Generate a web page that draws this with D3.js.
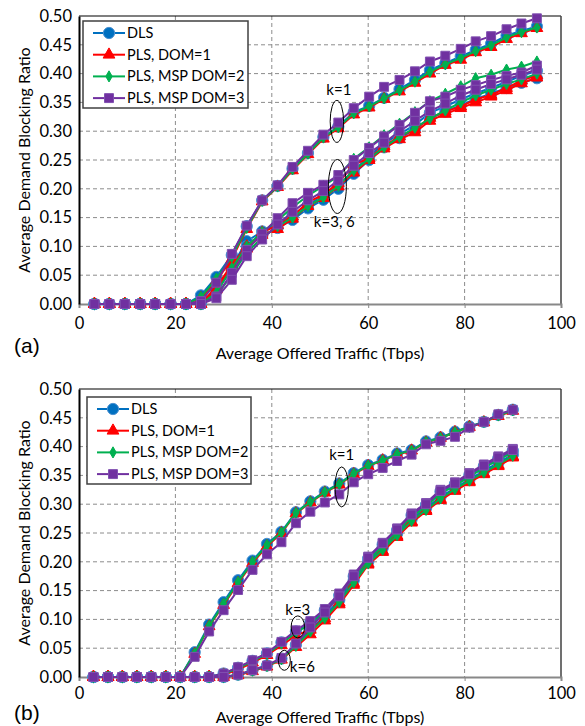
<!DOCTYPE html>
<html>
<head>
<meta charset="utf-8">
<script src="https://cdn.jsdelivr.net/npm/d3@7/dist/d3.min.js"></script>
<style>
  body { margin: 0; background: #fff; }
  svg text { font-family: Lato, "Open Sans", sans-serif; fill: #000; }
</style>
</head>
<body>
<div id="chart"></div>
<script>
// x values (Average Offered Traffic, Tbps)
const trafficA = [3.2, 6.3, 9.5, 12.7, 15.8, 19.0, 22.2, 25.3, 28.5, 31.7, 34.8, 38.0, 41.2, 44.3, 47.5,
                  50.7, 53.8, 57.0, 60.2, 63.3, 66.5, 69.7, 72.8, 76.0, 79.2, 82.3, 85.5, 88.7, 91.8, 95.0];
const trafficB = [3, 6, 9, 12, 15, 18, 21, 24, 27, 30, 33, 36, 39, 42, 45,
                  48, 51, 54, 57, 60, 63, 66, 69, 72, 75, 78, 81, 84, 87, 90];

const xTicks = [0, 20, 40, 60, 80, 100];
const yTicks = [0, 0.05, 0.10, 0.15, 0.20, 0.25, 0.30, 0.35, 0.40, 0.45, 0.50];
const seriesNames = ["DLS", "PLS, DOM=1", "PLS, MSP DOM=2", "PLS, MSP DOM=3"];

// panel (a), k=1
const dlsA1  = [0, 0, 0, 0, 0, 0, 0, 0.015, 0.047, 0.085, 0.135, 0.180, 0.205, 0.235, 0.262, 0.290, 0.308, 0.333, 0.344, 0.358, 0.373, 0.389, 0.406, 0.418, 0.430, 0.441, 0.452, 0.466, 0.474, 0.482];
const plsA1  = [0, 0, 0, 0, 0, 0, 0, 0.010, 0.040, 0.078, 0.130, 0.178, 0.203, 0.232, 0.260, 0.287, 0.305, 0.329, 0.341, 0.356, 0.369, 0.384, 0.400, 0.415, 0.424, 0.437, 0.446, 0.460, 0.470, 0.479];
const msp2A1 = [0, 0, 0, 0, 0, 0, 0, 0.012, 0.044, 0.082, 0.132, 0.179, 0.204, 0.234, 0.261, 0.289, 0.307, 0.331, 0.343, 0.357, 0.371, 0.386, 0.403, 0.416, 0.427, 0.439, 0.449, 0.463, 0.472, 0.480];
const msp3A1 = [0, 0, 0, 0, 0, 0, 0, 0.005, 0.037, 0.087, 0.136, 0.180, 0.206, 0.238, 0.266, 0.294, 0.315, 0.340, 0.360, 0.377, 0.389, 0.404, 0.421, 0.431, 0.443, 0.456, 0.465, 0.477, 0.487, 0.496];
// panel (a), k=3
const dlsA3  = [0, 0, 0, 0, 0, 0, 0, 0, 0.028, 0.065, 0.109, 0.126, 0.140, 0.155, 0.172, 0.188, 0.206, 0.232, 0.256, 0.279, 0.295, 0.311, 0.332, 0.343, 0.355, 0.366, 0.375, 0.386, 0.396, 0.405];
const plsA3  = [0, 0, 0, 0, 0, 0, 0, 0, 0.030, 0.068, 0.100, 0.124, 0.137, 0.152, 0.177, 0.190, 0.210, 0.242, 0.253, 0.274, 0.291, 0.303, 0.323, 0.334, 0.343, 0.355, 0.363, 0.375, 0.388, 0.397];
const msp2A3 = [0, 0, 0, 0, 0, 0, 0, 0, 0.020, 0.062, 0.100, 0.125, 0.145, 0.168, 0.188, 0.205, 0.222, 0.252, 0.272, 0.293, 0.313, 0.333, 0.352, 0.365, 0.378, 0.392, 0.398, 0.407, 0.412, 0.421];
const msp3A3 = [0, 0, 0, 0, 0, 0, 0, 0, 0.013, 0.054, 0.094, 0.122, 0.149, 0.175, 0.193, 0.207, 0.224, 0.250, 0.271, 0.291, 0.311, 0.332, 0.352, 0.360, 0.372, 0.380, 0.389, 0.396, 0.402, 0.414];
// panel (a), k=6
const dlsA6  = [0, 0, 0, 0, 0, 0, 0, 0, 0.022, 0.060, 0.100, 0.118, 0.132, 0.146, 0.166, 0.181, 0.200, 0.226, 0.250, 0.272, 0.288, 0.303, 0.322, 0.334, 0.345, 0.356, 0.365, 0.375, 0.384, 0.392];
const plsA6  = [0, 0, 0, 0, 0, 0, 0, 0, 0.025, 0.063, 0.096, 0.120, 0.130, 0.148, 0.170, 0.184, 0.204, 0.228, 0.250, 0.270, 0.286, 0.298, 0.318, 0.330, 0.340, 0.350, 0.360, 0.371, 0.383, 0.393];
const msp2A6 = [0, 0, 0, 0, 0, 0, 0, 0, 0.015, 0.050, 0.090, 0.115, 0.135, 0.150, 0.170, 0.185, 0.205, 0.232, 0.252, 0.272, 0.290, 0.306, 0.322, 0.336, 0.350, 0.362, 0.372, 0.382, 0.390, 0.400];
const msp3A6 = [0, 0, 0, 0, 0, 0, 0, 0, 0.010, 0.042, 0.083, 0.112, 0.138, 0.160, 0.180, 0.196, 0.214, 0.240, 0.262, 0.280, 0.300, 0.318, 0.335, 0.348, 0.362, 0.372, 0.382, 0.390, 0.398, 0.407];

// panel (b), k=1
const dlsB1  = [0, 0, 0, 0, 0, 0, 0, 0.043, 0.091, 0.130, 0.168, 0.202, 0.231, 0.252, 0.286, 0.305, 0.322, 0.336, 0.354, 0.368, 0.377, 0.388, 0.394, 0.409, 0.416, 0.426, 0.435, 0.443, 0.455, 0.464];
const plsB1  = [0, 0, 0, 0, 0, 0, 0, 0.040, 0.088, 0.125, 0.163, 0.198, 0.227, 0.250, 0.284, 0.303, 0.320, 0.334, 0.352, 0.366, 0.376, 0.386, 0.393, 0.407, 0.415, 0.425, 0.434, 0.442, 0.453, 0.462];
const msp2B1 = [0, 0, 0, 0, 0, 0, 0, 0.041, 0.089, 0.127, 0.165, 0.200, 0.229, 0.251, 0.285, 0.304, 0.321, 0.335, 0.353, 0.367, 0.376, 0.387, 0.393, 0.408, 0.415, 0.425, 0.434, 0.443, 0.454, 0.463];
const msp3B1 = [0, 0, 0, 0, 0, 0, 0, 0.035, 0.079, 0.116, 0.151, 0.186, 0.213, 0.234, 0.267, 0.287, 0.303, 0.317, 0.338, 0.352, 0.363, 0.375, 0.386, 0.404, 0.410, 0.417, 0.433, 0.443, 0.456, 0.464];
// panel (b), k=3
const dlsB3  = [0, 0, 0, 0, 0, 0, 0, 0, 0, 0.006, 0.016, 0.028, 0.041, 0.060, 0.079, 0.095, 0.116, 0.142, 0.175, 0.206, 0.230, 0.255, 0.281, 0.299, 0.322, 0.335, 0.351, 0.366, 0.380, 0.393];
const plsB3  = [0, 0, 0, 0, 0, 0, 0, 0, 0, 0.004, 0.013, 0.025, 0.038, 0.055, 0.072, 0.082, 0.102, 0.129, 0.163, 0.197, 0.219, 0.245, 0.270, 0.290, 0.309, 0.325, 0.340, 0.354, 0.368, 0.383];
const msp2B3 = [0, 0, 0, 0, 0, 0, 0, 0, 0, 0.005, 0.015, 0.027, 0.040, 0.058, 0.077, 0.092, 0.113, 0.139, 0.172, 0.203, 0.227, 0.252, 0.278, 0.296, 0.319, 0.332, 0.348, 0.363, 0.377, 0.390];
const msp3B3 = [0, 0, 0, 0, 0, 0, 0, 0, 0, 0.006, 0.017, 0.029, 0.042, 0.061, 0.081, 0.097, 0.118, 0.145, 0.178, 0.209, 0.233, 0.258, 0.284, 0.302, 0.325, 0.338, 0.354, 0.369, 0.383, 0.396];
// panel (b), k=6
const dlsB6  = [0, 0, 0, 0, 0, 0, 0, 0, 0, 0, 0.004, 0.012, 0.020, 0.032, 0.056, 0.082, 0.106, 0.134, 0.168, 0.200, 0.224, 0.249, 0.274, 0.293, 0.313, 0.328, 0.343, 0.358, 0.372, 0.386];
const plsB6  = [0, 0, 0, 0, 0, 0, 0, 0, 0, 0, 0.003, 0.010, 0.018, 0.030, 0.052, 0.074, 0.098, 0.126, 0.160, 0.195, 0.217, 0.243, 0.268, 0.288, 0.307, 0.323, 0.338, 0.352, 0.366, 0.381];
const msp2B6 = [0, 0, 0, 0, 0, 0, 0, 0, 0, 0, 0.004, 0.011, 0.019, 0.031, 0.054, 0.079, 0.102, 0.130, 0.164, 0.197, 0.221, 0.246, 0.271, 0.290, 0.310, 0.326, 0.341, 0.355, 0.369, 0.384];
const msp3B6 = [0, 0, 0, 0, 0, 0, 0, 0, 0, 0, 0.004, 0.012, 0.020, 0.033, 0.058, 0.086, 0.112, 0.140, 0.175, 0.207, 0.232, 0.256, 0.282, 0.300, 0.323, 0.336, 0.352, 0.367, 0.381, 0.394];

// look of each series
const styles = [
    { color: "#0070C0", edge: "#4A90D0", symbol: d3.symbolCircle, size: 100 },
    { color: "#FF0000", edge: "#FF0000", symbol: d3.symbolTriangle, size: 60 },
    { color: "#00B050", edge: "#00B050", symbol: d3.symbolDiamond, size: 36 },
    { color: "#7030A0", edge: "#8050B0", symbol: d3.symbolSquare, size: 80 }
];

const W = 585, H = 726;
const svg = d3.select("#chart").append("svg")
    .attr("width", W)
    .attr("height", H);

function drawPanel(p) {
    let x = d3.scaleLinear().domain([0, 100]).range([79, 561]);
    let y = d3.scaleLinear().domain([0, 0.5]).range([p.bottom, p.top]);
    let g = svg.append("g");

    // grid
    g.selectAll(".gx").data(xTicks.slice(1, -1)).enter().append("line")
        .attr("x1", d => x(d)).attr("x2", d => x(d))
        .attr("y1", p.top).attr("y2", p.bottom)
        .attr("stroke", "#8c8c8c").attr("stroke-dasharray", "4,3");
    g.selectAll(".gy").data(yTicks.slice(1, -1)).enter().append("line")
        .attr("x1", 79).attr("x2", 561)
        .attr("y1", d => y(d)).attr("y2", d => y(d))
        .attr("stroke", "#8c8c8c").attr("stroke-dasharray", "4,3");

    // frame
    g.append("line").attr("x1", 79).attr("x2", 561).attr("y1", p.top).attr("y2", p.top)
        .attr("stroke", "#000").attr("stroke-width", 1.2);
    g.append("line").attr("x1", 561).attr("x2", 561).attr("y1", p.top).attr("y2", p.bottom)
        .attr("stroke", "#404040").attr("stroke-width", 1.5);

    let xAxis = g.append("g")
        .attr("transform", "translate(0," + p.bottom + ")")
        .call(d3.axisBottom(x).tickValues(xTicks).tickSize(4).tickPadding(p.xPad).tickFormat(d3.format("d")));
    xAxis.select(".domain").attr("stroke", "#888").attr("stroke-width", 2);
    xAxis.selectAll(".tick line").attr("stroke", "#888");
    xAxis.selectAll("text").style("font-size", "16.5px");

    let yAxis = g.append("g")
        .attr("transform", "translate(79,0)")
        .call(d3.axisLeft(y).tickValues(yTicks).tickSize(0).tickPadding(7).tickFormat(d3.format(".2f")));
    yAxis.select(".domain").attr("stroke", "#000").attr("stroke-width", 2);
    yAxis.selectAll("text").style("font-size", "16.5px");

    // titles
    g.append("text")
        .attr("transform", "translate(30," + (p.top + p.bottom) / 2 + ") rotate(-90)")
        .attr("text-anchor", "middle")
        .style("font-size", "16px")
        .text("Average Demand Blocking Ratio");
    g.append("text")
        .attr("x", 320).attr("y", p.bottom + p.titleOff)
        .attr("text-anchor", "middle")
        .style("font-size", "16px")
        .text("Average Offered Traffic (Tbps)");
    g.append("text")
        .attr("x", 14).attr("y", p.bottom + p.labelOff)
        .style("font-family", "'Liberation Sans', Arial, sans-serif")
        .style("font-size", "21px")
        .text(p.label);

    // series
    let line = d3.line().x(d => x(d[0])).y(d => y(d[1]));
    p.series.forEach(function(groups, si) {
        let st = styles[si];
        groups.forEach(function(vals) {
            let pts = vals.map((v, i) => [p.traffic[i], v]);
            g.append("path")
                .attr("d", line(pts))
                .attr("fill", "none")
                .attr("stroke", st.color)
                .attr("stroke-width", 2);
            g.selectAll(null).data(pts).enter().append("path")
                .attr("d", d3.symbol().type(st.symbol).size(st.size))
                .attr("transform", d => "translate(" + x(d[0]) + "," + y(d[1]) + ")")
                .attr("fill", st.color)
                .attr("stroke", st.edge)
                .attr("stroke-width", 1);
        });
    });

    // annotations
    p.notes.forEach(function(n) {
        g.append("ellipse")
            .attr("cx", x(n.x)).attr("cy", y(n.y))
            .attr("rx", n.rx).attr("ry", n.ry)
            .attr("fill", "none").attr("stroke", "#000").attr("stroke-width", 1);
        g.append("text")
            .attr("x", x(n.x) + n.dx).attr("y", y(n.y) + n.dy)
            .attr("text-anchor", "middle")
            .style("font-size", "15px")
            .text(n.text);
    });

    // legend
    let L = p.legend;
    g.append("rect")
        .attr("x", L.x).attr("y", L.y).attr("width", L.w).attr("height", L.h)
        .attr("fill", "#fff").attr("stroke", "#404040").attr("stroke-width", 1.5);
    seriesNames.forEach(function(name, i) {
        let st = styles[i];
        let cy = L.y + 12 + i * 21.7;
        g.append("line")
            .attr("x1", L.x + 10).attr("x2", L.x + 42)
            .attr("y1", cy).attr("y2", cy)
            .attr("stroke", st.color).attr("stroke-width", 2);
        g.append("path")
            .attr("d", d3.symbol().type(st.symbol).size(st.size))
            .attr("transform", "translate(" + (L.x + 26) + "," + cy + ")")
            .attr("fill", st.color).attr("stroke", st.edge);
        g.append("text")
            .attr("x", L.x + 44).attr("y", cy + 5)
            .style("font-size", "14.5px")
            .text(name);
    });
}

drawPanel({
    top: 16, bottom: 304, label: "(a)", traffic: trafficA,
    xPad: 9, titleOff: 55, labelOff: 49,
    series: [[dlsA1, dlsA3, dlsA6], [plsA1, plsA3, plsA6], [msp2A1, msp2A3, msp2A6], [msp3A1, msp3A3, msp3A6]],
    legend: { x: 83, y: 21, w: 165, h: 87 },
    notes: [
        { text: "k=1", x: 53.5, y: 0.317, rx: 6.7, ry: 21, dx: 2, dy: -26 },
        { text: "k=3, 6", x: 53.6, y: 0.204, rx: 9, ry: 27, dx: -3, dy: 41 }
    ]
});

drawPanel({
    top: 389, bottom: 677, label: "(b)", traffic: trafficB,
    xPad: 6, titleOff: 46, labelOff: 43,
    series: [[dlsB1, dlsB3, dlsB6], [plsB1, plsB3, plsB6], [msp2B1, msp2B3, msp2B6], [msp3B1, msp3B3, msp3B6]],
    legend: { x: 87, y: 397, w: 164, h: 87 },
    notes: [
        { text: "k=1", x: 54.5, y: 0.33, rx: 6.7, ry: 20, dx: 0, dy: -27 },
        { text: "k=3", x: 45.4, y: 0.087, rx: 6.7, ry: 11, dx: 0, dy: -12 },
        { text: "k=6", x: 42.6, y: 0.029, rx: 6, ry: 10, dx: 18, dy: 12 }
    ]
});
</script>
</body>
</html>
